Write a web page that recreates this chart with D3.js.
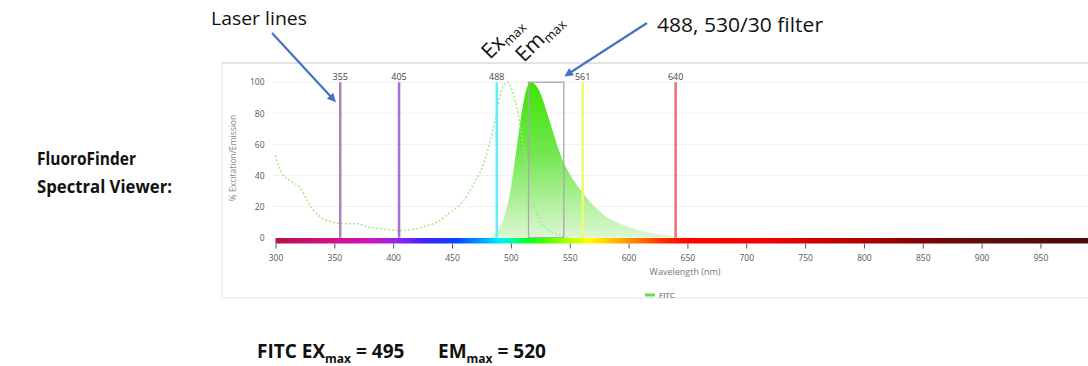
<!DOCTYPE html>
<html>
<head>
<meta charset="utf-8">
<script src="https://cdn.jsdelivr.net/npm/d3@7"></script>
<style>
  body { margin: 0; background: #fff; }
  svg { display: block; font-family: "Open Sans", sans-serif; }
</style>
</head>
<body>
<div class="viewer"></div>
<script>
// data
const xTicks = [300, 350, 400, 450, 500, 550, 600, 650, 700, 750, 800, 850, 900, 950];
const yTicks = [0, 20, 40, 60, 80, 100];
const laserLines = [355, 405, 488, 561, 640];
const filterBand = [515, 545];

const emissionNm  = [478, 485, 490, 495, 500, 505, 510, 514, 517, 520, 525, 530, 535, 540, 545, 550, 555, 560, 565, 570, 580, 590, 600, 610, 620, 630, 640, 650, 660];
const emissionPct = [0, 2, 6, 15, 32, 58, 84, 97, 100, 99, 93, 82, 70, 58, 48, 41, 35, 30, 25, 21, 14, 10, 7, 4.5, 3, 1.8, 1, 0.4, 0];

const excitationNm  = [300, 305, 314, 321, 327, 332, 340, 349, 358, 369, 378, 386, 397, 406, 414, 426, 437, 448, 460, 468, 477, 482, 488, 493, 497, 501, 505, 510, 515, 520, 525, 530, 540, 550];
const excitationPct = [53, 42, 36, 32, 24, 18, 12.5, 10, 9, 9, 7, 6, 5, 4.5, 5, 7, 10, 16, 24, 34, 48, 61, 80, 97, 100, 95, 84, 62, 38, 20, 10, 6, 2, 0];

const seriesName = 'FITC';

//set up SVG
const SVGWIDTH = 1088;
const SVGHEIGHT = 366;

let svg = d3.select('.viewer')
  .append('svg')
  .attr('width', SVGWIDTH)
  .attr('height', SVGHEIGHT);

// scales
const x = d3.scaleLinear().domain([300, 1000]).range([275.5, 1099.3]);
const y = d3.scaleLinear().domain([0, 100]).range([237.7, 82.2]);

const laserColor = d3.scaleOrdinal()
  .domain(laserLines)
  .range(['#ad80bf', '#a66ee0', '#62ecff', '#e6ff6a', '#ee6f6f']);

const defs = svg.append('defs');

// spectrum gradient for the wavelength bar
const spectrumStops = [
  [300, '#b3104c'], [340, '#d0107c'], [380, '#d014b4'], [402, '#9c22e6'],
  [428, '#3a22ff'], [455, '#0a44ff'], [476, '#00a6ff'], [490, '#00e8ff'],
  [502, '#00ffa0'], [512, '#00ff30'], [530, '#48ff00'], [550, '#b4ff00'],
  [566, '#ffff00'], [586, '#ffc000'], [610, '#ff7000'], [632, '#ff2400'],
  [652, '#ff0000'], [720, '#f00000'], [780, '#c00000'], [850, '#800000'],
  [900, '#5c0e0e'], [1000, '#480a0a']
];
const spec = defs.append('linearGradient')
  .attr('id', 'spectrum')
  .attr('gradientUnits', 'userSpaceOnUse')
  .attr('x1', x(300)).attr('x2', x(1000))
  .attr('y1', 0).attr('y2', 0);
spec.selectAll('stop')
  .data(spectrumStops)
  .enter()
  .append('stop')
  .attr('offset', d => (d[0] - 300) / 700)
  .attr('stop-color', d => d[1]);

// emission fill gradient
const emGrad = defs.append('linearGradient')
  .attr('id', 'emFill')
  .attr('gradientUnits', 'userSpaceOnUse')
  .attr('x1', 0).attr('x2', 0)
  .attr('y1', y(100)).attr('y2', y(0));
emGrad.append('stop').attr('offset', 0).attr('stop-color', '#3be600');
emGrad.append('stop').attr('offset', 0.45).attr('stop-color', '#72e64e');
emGrad.append('stop').attr('offset', 1).attr('stop-color', '#dcf7d3');

// arrowhead
defs.append('marker')
  .attr('id', 'arrow')
  .attr('viewBox', '0 0 10 10')
  .attr('refX', 5).attr('refY', 5)
  .attr('markerWidth', 4).attr('markerHeight', 4)
  .attr('orient', 'auto-start-reverse')
  .append('path')
  .attr('d', 'M0,0 L10,5 L0,10 z')
  .attr('fill', '#4472c4');

// chart panel
svg.append('rect')
  .attr('x', 222).attr('y', 63)
  .attr('width', 900).attr('height', 235)
  .attr('fill', 'none')
  .attr('stroke', '#eef0f7')
  .attr('stroke-width', 2);
svg.append('line')
  .attr('x1', 222).attr('x2', SVGWIDTH)
  .attr('y1', 63).attr('y2', 63)
  .attr('stroke', '#e3e3e3')
  .attr('stroke-width', 2);

// gridlines
svg.append('g')
  .selectAll('line')
  .data(yTicks.filter(d => d > 0))
  .enter()
  .append('line')
  .attr('x1', 273).attr('x2', SVGWIDTH)
  .attr('y1', d => y(d)).attr('y2', d => y(d))
  .attr('stroke', '#f0f0f0');

// y axis (labels only)
const leftAxis = d3.axisLeft(y).tickValues(yTicks).tickSize(0).tickPadding(11);
const yAxisG = svg.append('g')
  .attr('transform', `translate(${x(300)}, 0)`)
  .call(leftAxis);
yAxisG.select('.domain').remove();
yAxisG.selectAll('text')
  .attr('font-family', '"Open Sans", sans-serif')
  .attr('font-size', 8.5)
  .attr('fill', '#555');

svg.append('text')
  .attr('transform', 'translate(236, 158) rotate(-90)')
  .attr('text-anchor', 'middle')
  .attr('font-size', 8.5)
  .attr('fill', '#888')
  .text('% Excitation/Emission');

// emission area
const area = d3.area()
  .x((d, i) => x(emissionNm[i]))
  .y0(y(0))
  .y1((d, i) => y(emissionPct[i]))
  .curve(d3.curveMonotoneX);
svg.append('path')
  .datum(emissionPct)
  .attr('d', area)
  .attr('fill', 'url(#emFill)');

// excitation dotted line
const line = d3.line()
  .x((d, i) => x(excitationNm[i]))
  .y((d, i) => y(excitationPct[i]))
  .curve(d3.curveMonotoneX);
svg.append('path')
  .datum(excitationPct)
  .attr('d', line)
  .attr('fill', 'none')
  .attr('stroke', '#a8e88a')
  .attr('stroke-width', 1.5)
  .attr('stroke-dasharray', '2,2');

// filter box
svg.append('rect')
  .attr('x', x(filterBand[0]))
  .attr('y', y(100))
  .attr('width', x(filterBand[1]) - x(filterBand[0]))
  .attr('height', y(0) - y(100))
  .attr('fill', 'none')
  .attr('stroke', '#a8a8a8')
  .attr('stroke-width', 1.3);

// laser lines
svg.append('g')
  .selectAll('line')
  .data(laserLines)
  .enter()
  .append('line')
  .attr('x1', d => x(d)).attr('x2', d => x(d))
  .attr('y1', y(100)).attr('y2', y(0))
  .attr('stroke', d => laserColor(d))
  .attr('stroke-width', 2.5);

svg.append('g')
  .selectAll('text')
  .data(laserLines)
  .enter()
  .append('text')
  .attr('x', d => x(d))
  .attr('y', 80)
  .attr('text-anchor', 'middle')
  .attr('font-size', 9)
  .attr('fill', '#444')
  .text(d => d);

// wavelength bar
svg.append('rect')
  .attr('x', x(300)).attr('y', 238)
  .attr('width', x(1000) - x(300)).attr('height', 5.5)
  .attr('fill', 'url(#spectrum)');

// x axis
const bottomAxis = d3.axisBottom(x).tickValues(xTicks).tickSize(5).tickPadding(6);
const xAxisG = svg.append('g')
  .attr('transform', 'translate(0, 243.5)')
  .call(bottomAxis);
xAxisG.select('.domain').remove();
xAxisG.selectAll('.tick line').attr('stroke', '#555');
xAxisG.selectAll('text')
  .attr('font-family', '"Open Sans", sans-serif')
  .attr('font-size', 8.5)
  .attr('fill', '#555');

svg.append('text')
  .attr('x', 685).attr('y', 275)
  .attr('text-anchor', 'middle')
  .attr('font-size', 9)
  .attr('fill', '#777')
  .text('Wavelength (nm)');

// legend
svg.append('line')
  .attr('x1', 645).attr('x2', 655)
  .attr('y1', 295).attr('y2', 295)
  .attr('stroke', '#66dd44')
  .attr('stroke-width', 3);
svg.append('text')
  .attr('x', 659).attr('y', 298)
  .attr('font-size', 8)
  .attr('fill', '#555')
  .text(seriesName);

// annotations
svg.append('text')
  .attr('x', 211).attr('y', 25)
  .attr('font-size', 19)
  .attr('textLength', 96)
  .attr('lengthAdjust', 'spacingAndGlyphs')
  .attr('fill', '#111')
  .text('Laser lines');
svg.append('line')
  .attr('x1', 272).attr('y1', 33)
  .attr('x2', 333).attr('y2', 99)
  .attr('stroke', '#4472c4')
  .attr('stroke-width', 2.2)
  .attr('marker-end', 'url(#arrow)');

svg.append('text')
  .attr('x', 657).attr('y', 32)
  .attr('font-size', 19.5)
  .attr('textLength', 166)
  .attr('lengthAdjust', 'spacingAndGlyphs')
  .attr('fill', '#111')
  .text('488, 530/30 filter');
svg.append('line')
  .attr('x1', 647).attr('y1', 23)
  .attr('x2', 568).attr('y2', 74)
  .attr('stroke', '#4472c4')
  .attr('stroke-width', 2.2)
  .attr('marker-end', 'url(#arrow)');

function maxLabel(tx, ty, main) {
  const t = svg.append('text')
    .attr('transform', `translate(${tx}, ${ty}) rotate(-45)`)
    .attr('font-size', 21)
    .attr('fill', '#111');
  t.append('tspan').text(main);
  t.append('tspan').attr('font-size', 13).attr('dy', 4).text('max');
}
maxLabel(490, 60, 'Ex');
maxLabel(524, 63, 'Em');

svg.append('text')
  .attr('x', 37).attr('y', 165)
  .attr('font-size', 17)
  .attr('font-weight', 'bold')
  .attr('textLength', 99)
  .attr('lengthAdjust', 'spacingAndGlyphs')
  .attr('fill', '#111')
  .text('FluoroFinder');
svg.append('text')
  .attr('x', 37).attr('y', 193)
  .attr('font-size', 17)
  .attr('font-weight', 'bold')
  .attr('textLength', 135)
  .attr('lengthAdjust', 'spacingAndGlyphs')
  .attr('fill', '#111')
  .text('Spectral Viewer:');

const bottom = svg.append('text')
  .attr('x', 257).attr('y', 358)
  .attr('font-size', 19)
  .attr('font-weight', 'bold')
  .attr('fill', '#111');
bottom.append('tspan').text('FITC EX');
bottom.append('tspan').attr('font-size', 12).attr('dy', 5).text('max');
bottom.append('tspan').attr('dy', -5).text(' = 495');
bottom.append('tspan').attr('x', 438).text('EM');
bottom.append('tspan').attr('font-size', 12).attr('dy', 5).text('max');
bottom.append('tspan').attr('dy', -5).text(' = 520');
</script>
</body>
</html>
